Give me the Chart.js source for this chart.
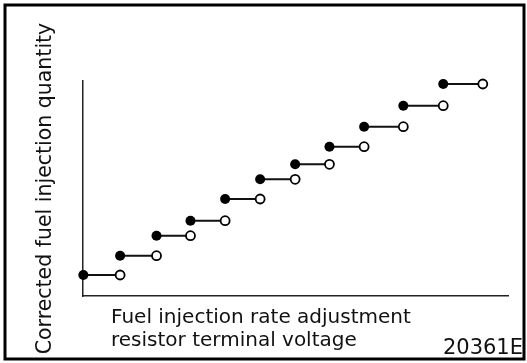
<!DOCTYPE html>
<html>
<head>
<meta charset="utf-8">
<script src="https://cdn.jsdelivr.net/npm/chart.js@4.4.1/dist/chart.umd.min.js"></script>
<style>
  html, body { margin: 0; padding: 0; background: #fff; }
  #wrap { width: 527px; height: 363px; }
</style>
</head>
<body>
<div id="wrap"><canvas id="qtyChart" width="527" height="363"></canvas></div>
<script>
// Step edges along the voltage axis (relative units) and the quantity held on each step
var stepFrom = [0.01, 1.06, 2.10, 3.07, 4.06, 5.06, 6.06, 7.04, 8.03, 9.15, 10.29];
var stepTo   = [1.06, 2.10, 3.07, 4.06, 5.06, 6.06, 7.04, 8.03, 9.15, 10.29, 11.42];
var stepQty  = [2.1, 4.03, 6.03, 7.53, 9.7, 11.67, 13.17, 14.93, 16.93, 19.03, 21.2];

var xTitle = ["Fuel injection rate adjustment", "resistor terminal voltage"];
var yTitle = "Corrected fuel injection quantity";
var figNo = "20361E";

var FONT = '"DejaVu Sans", sans-serif';

// filled dot = start of a step (included), open dot = end of a step (excluded)
var closedPts = [], openPts = [], segPts = [];
for (var i = 0; i < stepQty.length; i++) {
    closedPts.push({ x: stepFrom[i], y: stepQty[i] });
    openPts.push({ x: stepTo[i], y: stepQty[i] });
    segPts.push({ x: stepFrom[i], y: stepQty[i] });
    segPts.push({ x: stepTo[i], y: stepQty[i] });
    segPts.push({ x: stepTo[i], y: null }); // break the line between steps
}

// frame round the figure, the two-line x caption and the figure number
var captions = {
    id: 'captions',
    afterDraw: function (chart) {
        var ctx = chart.ctx;
        var area = chart.chartArea;
        ctx.save();
        ctx.strokeStyle = '#000';
        ctx.lineWidth = 3;
        ctx.strokeRect(5, 5, 519, 354);

        ctx.fillStyle = '#111';
        ctx.font = '20px ' + FONT;
        ctx.textBaseline = 'alphabetic';
        ctx.textAlign = 'left';
        ctx.fillText(xTitle[0], area.left + 28, 323);
        ctx.fillText(xTitle[1], area.left + 28, 346);

        ctx.font = '21px ' + FONT;
        ctx.textAlign = 'right';
        ctx.fillText(figNo, 523, 354);
        ctx.restore();
    }
};

var chart = new Chart(document.getElementById('qtyChart').getContext('2d'), {
    type: 'scatter',
    data: {
        datasets: [
            {
                data: closedPts,
                pointRadius: 5,
                pointBackgroundColor: '#000',
                pointBorderColor: '#000',
                pointBorderWidth: 0,
                clip: false
            },
            {
                data: openPts,
                pointRadius: 4.5,
                pointBackgroundColor: '#fff',
                pointBorderColor: '#000',
                pointBorderWidth: 1.8,
                clip: false
            },
            {
                data: segPts,
                showLine: true,
                spanGaps: false,
                borderColor: '#111',
                borderWidth: 2,
                pointRadius: 0,
                clip: false
            }
        ]
    },
    options: {
        responsive: false,
        animation: false,
        devicePixelRatio: 1,
        layout: { padding: { top: 81, right: 19, left: 0, bottom: 0 } },
        plugins: {
            legend: { display: false },
            tooltip: { enabled: false }
        },
        scales: {
            x: {
                type: 'linear',
                min: 0,
                max: 12.14,
                ticks: { display: false },
                grid: { display: false },
                border: { display: true, color: '#222', width: 1.5 },
                afterFit: function (scale) { scale.height = 67; }
            },
            y: {
                type: 'linear',
                min: 0,
                max: 21.5,
                ticks: { display: false },
                grid: { display: false },
                border: { display: true, color: '#222', width: 1.5 },
                title: {
                    display: true,
                    text: yTitle,
                    color: '#111',
                    font: { family: FONT, size: 20.5 },
                    padding: { top: 33, bottom: 0 }
                },
                afterFit: function (scale) { scale.width = 83; }
            }
        }
    },
    plugins: [captions]
});
</script>
</body>
</html>
